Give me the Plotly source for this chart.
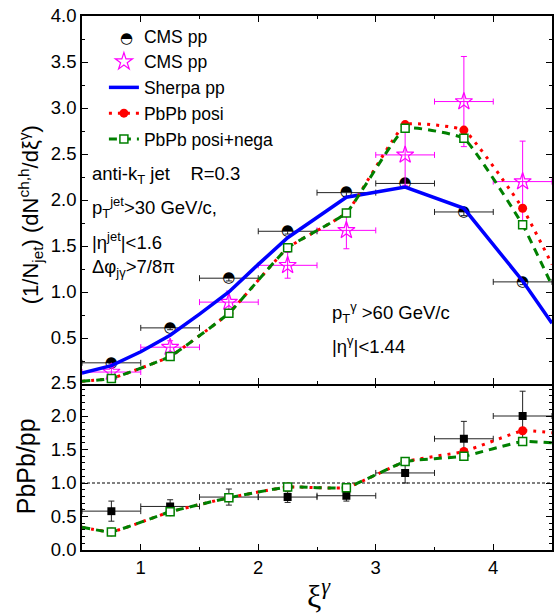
import plotly.graph_objects as go

# ---- data -------------------------------------------------------------
xi_bins = [0.75, 1.25, 1.75, 2.25, 2.75, 3.25, 3.75, 4.25]
xi_halfwidth = [0.25] * 8

cms_pp_circ = [0.23, 0.61, 1.15, 1.66, 2.08, 2.18, 1.87, 1.11]
cms_pp_circ_err = [0.01, 0.02, 0.03, 0.03, 0.04, 0.04, 0.04, 0.03]

cms_pp_star = [0.13, 0.40, 0.89, 1.29, 1.67, 2.49, 3.07, 2.20]
cms_pp_star_err = [0.06, 0.07, 0.12, 0.14, 0.20, 0.33, 0.49, 0.44]

sherpa_x = [0.5, 0.75, 1.0, 1.25, 1.5, 1.75, 2.0, 2.25, 2.5, 2.75, 3.25, 3.75, 4.25, 4.5]
sherpa_pp = [0.12, 0.20, 0.35, 0.53, 0.76, 1.00, 1.30, 1.59, 1.81, 2.03, 2.14, 1.91, 1.12, 0.66]

model_x = [0.5, 0.75, 1.25, 1.75, 2.25, 2.75, 3.25, 3.75, 4.25, 4.5]
pbpb_posi = [0.03, 0.06, 0.30, 0.77, 1.48, 1.86, 2.82, 2.76, 1.91, 1.30]
pbpb_posinega = [0.03, 0.06, 0.30, 0.77, 1.48, 1.86, 2.78, 2.67, 1.73, 1.07]

ratio_cms = [0.58, 0.65, 0.79, 0.79, 0.81, 1.15, 1.66, 2.00]
ratio_cms_err = [0.15, 0.10, 0.12, 0.08, 0.08, 0.15, 0.26, 0.37]
ratio_posi = [0.34, 0.27, 0.57, 0.78, 0.94, 0.93, 1.32, 1.47, 1.78, 1.75]
ratio_posinega = [0.34, 0.27, 0.57, 0.78, 0.94, 0.93, 1.32, 1.40, 1.62, 1.60]

x_ticks = [1, 2, 3, 4]
top_ticks = [0.5, 1.0, 1.5, 2.0, 2.5, 3.0, 3.5, 4.0]
bot_ticks = [0.0, 0.5, 1.0, 1.5, 2.0, 2.5]

# ---- geometry (pixels of the 555x616 canvas) --------------------------
W, H = 555, 616
L, R, T, B = 82, 554, 16, 550
SPLIT = 384
AXW = 1.5


def px(xp):
    return (xp - L) / (R - L)


def py(yp):
    return (B - yp) / (B - T)


FONT = "Liberation Sans, Arial, sans-serif"
RED = "#ff0000"
GREEN = "#008000"
BLUE = "#0000ff"
MAG = "#ff00ff"
SMOOTH = 0.35
HALF_DISC = "\u25d3"

inner = list(range(1, len(model_x) - 1))

fig = go.Figure()

# ---- top panel --------------------------------------------------------
fig.add_trace(go.Scatter(
    x=xi_bins, y=cms_pp_circ, mode="text", text=[HALF_DISC] * len(xi_bins),
    textfont=dict(family="DejaVu Sans", size=15, color="black"),
    error_x=dict(type="data", array=xi_halfwidth, color="#222222", thickness=1, width=3),
    error_y=dict(type="data", array=cms_pp_circ_err, color="#222222", thickness=1, width=3),
    xaxis="x2", yaxis="y", showlegend=False))
# legend entry for the half-filled circles (glyph drawn on top of the entry)
fig.add_trace(go.Scatter(
    x=[None], y=[None], mode="markers", name="CMS pp",
    marker=dict(symbol="circle", size=11, color="rgba(0,0,0,0)", line=dict(width=0)),
    xaxis="x2", yaxis="y"))

fig.add_trace(go.Scatter(
    x=xi_bins, y=cms_pp_star, mode="markers", name="CMS pp",
    marker=dict(symbol="star-open", size=13, color=MAG, line=dict(width=1.2, color=MAG)),
    error_x=dict(type="data", array=xi_halfwidth, color=MAG, thickness=1, width=3),
    error_y=dict(type="data", array=cms_pp_star_err, color=MAG, thickness=1, width=3),
    xaxis="x2", yaxis="y"))

fig.add_trace(go.Scatter(
    x=sherpa_x, y=sherpa_pp, mode="lines", name="Sherpa pp",
    line=dict(color=BLUE, width=3.5), xaxis="x2", yaxis="y"))

fig.add_trace(go.Scatter(
    x=model_x, y=pbpb_posi, mode="lines+markers", name="PbPb posi",
    line=dict(color=RED, width=3, dash="3px,6px", shape="spline", smoothing=SMOOTH),
    marker=dict(symbol="circle", size=9, color=RED),
    selectedpoints=inner, unselected=dict(marker=dict(opacity=0)),
    xaxis="x2", yaxis="y"))

fig.add_trace(go.Scatter(
    x=model_x, y=pbpb_posinega, mode="lines+markers", name="PbPb posi+nega",
    line=dict(color=GREEN, width=3, dash="8px,6px", shape="spline", smoothing=SMOOTH),
    marker=dict(symbol="square", size=8, color="white", line=dict(color=GREEN, width=1.5)),
    selectedpoints=inner, unselected=dict(marker=dict(opacity=0)),
    xaxis="x2", yaxis="y"))

# ---- ratio panel ------------------------------------------------------
fig.add_trace(go.Scatter(
    x=xi_bins, y=ratio_cms, mode="markers", showlegend=False,
    marker=dict(symbol="square", size=8, color="black"),
    error_x=dict(type="data", array=xi_halfwidth, color="#222222", thickness=1, width=3),
    error_y=dict(type="data", array=ratio_cms_err, color="#222222", thickness=1, width=3),
    xaxis="x", yaxis="y2"))

fig.add_trace(go.Scatter(
    x=model_x, y=ratio_posi, mode="lines+markers", showlegend=False,
    line=dict(color=RED, width=3, dash="3px,6px", shape="spline", smoothing=SMOOTH),
    marker=dict(symbol="circle", size=9, color=RED),
    selectedpoints=inner, unselected=dict(marker=dict(opacity=0)),
    xaxis="x", yaxis="y2"))

fig.add_trace(go.Scatter(
    x=model_x, y=ratio_posinega, mode="lines+markers", showlegend=False,
    line=dict(color=GREEN, width=3, dash="8px,6px", shape="spline", smoothing=SMOOTH),
    marker=dict(symbol="square", size=8, color="white", line=dict(color=GREEN, width=1.5)),
    selectedpoints=inner, unselected=dict(marker=dict(opacity=0)),
    xaxis="x", yaxis="y2"))

# unity reference line in the ratio panel
fig.add_shape(type="line", xref="x", yref="y2", x0=0.5, x1=4.5, y0=1.0, y1=1.0,
              line=dict(color="black", width=1, dash="3px,2px"), layer="below")

# ---- axes -------------------------------------------------------------
split_frac = (B - SPLIT) / (B - T)
# the two panels share one border line: shift the lower panel by one line width
low_top = split_frac + AXW / (B - T)
axis_common = dict(showline=True, linecolor="black", linewidth=AXW, mirror="ticks",
                   ticks="inside", tickcolor="black", tickwidth=1.2, showgrid=False,
                   zeroline=False, tickfont=dict(family=FONT, size=18.5, color="black"))

fig.update_layout(
    xaxis=dict(domain=[0, 1], range=[0.5, 4.5], anchor="y2", tickvals=x_ticks, ticklen=6,
               minor=dict(dtick=0.5, tick0=0.5, ticks="inside", ticklen=3, tickcolor="black"),
               **axis_common),
    xaxis2=dict(domain=[0, 1], range=[0.5, 4.5], anchor="y", matches="x", tickvals=x_ticks,
                ticklen=6, showticklabels=False,
                minor=dict(dtick=0.5, tick0=0.5, ticks="inside", ticklen=3, tickcolor="black"),
                **axis_common),
    yaxis=dict(domain=[split_frac, 1], range=[0, 4.0], anchor="x2", tickvals=top_ticks,
               ticktext=[f"{v:.1f}" for v in top_ticks], ticklen=6,
               minor=dict(dtick=0.25, tick0=0, ticks="inside", ticklen=3, tickcolor="black"),
               **axis_common),
    yaxis2=dict(domain=[0, low_top], range=[0, 2.5], anchor="x", tickvals=bot_ticks,
                ticktext=[f"{v:.1f}" for v in bot_ticks], ticklen=6,
                minor=dict(dtick=0.1, tick0=0, ticks="inside", ticklen=3, tickcolor="black"),
                **axis_common),
    width=W, height=H,
    margin=dict(l=L, r=W - R, t=T, b=H - B, pad=0),
    paper_bgcolor="white", plot_bgcolor="white",
    font=dict(family=FONT, size=17, color="black"),
    legend=dict(x=px(104), y=py(18), xanchor="left", yanchor="top",
                bgcolor="rgba(0,0,0,0)", font=dict(family=FONT, size=17.5),
                tracegroupgap=0, itemwidth=30),
)

# ---- text -------------------------------------------------------------
ann = []


def label(text, xp, yp, size=18.5, **kw):
    ann.append(dict(text=text, x=px(xp), y=py(yp), xref="paper", yref="paper",
                    xanchor=kw.pop("xanchor", "left"), yanchor=kw.pop("yanchor", "middle"),
                    showarrow=False, font=dict(family=kw.pop("family", FONT), size=size,
                                               color="black"), **kw))


nb = "\u00a0"
label(f"anti-k<sub>T</sub> jet{nb*4}R=0.3", 90, 175)
label("p<sub>T</sub><sup>jet</sup>>30 GeV/c,", 90, 207)
label("|η<sup>jet</sup>|<1.6", 90, 241)
label("Δφ<sub>jγ</sub>>7/8π", 90, 268)
label(f"p<sub>T</sub><sup>γ</sup>{nb}>60 GeV/c", 331, 312)
label("|η<sup>γ</sup>|<1.44", 331, 345)

label("(1/N<sub>jet</sub>) (dN<sup>ch,h</sup>/dξ<sup>γ</sup>)", 30, 215, size=22,
      xanchor="center", textangle=-90)
label("PbPb/pp", 26, 466, size=25, xanchor="center", textangle=-90)
label("ξ<sup><i>γ</i></sup>", 320, 594, size=32, xanchor="center",
      family="Liberation Serif, Times New Roman, serif")

# half-filled circle symbol of the first legend entry
label(HALF_DISC, 127, 38, size=15, xanchor="center", family="DejaVu Sans")

fig.update_layout(annotations=ann)

fig.write_html("out.html")
